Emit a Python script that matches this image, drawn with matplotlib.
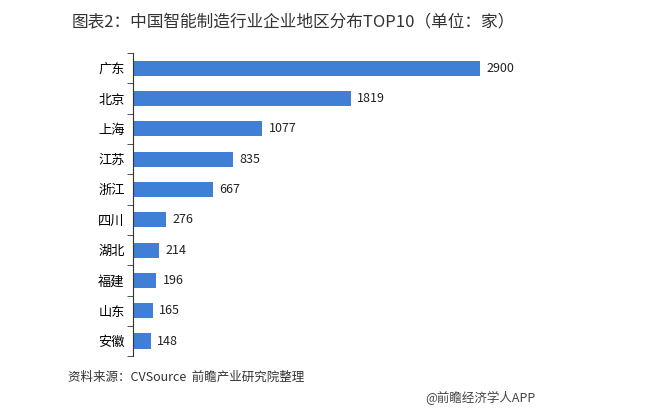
import matplotlib.pyplot as plt
import numpy as np

plt.rcParams['font.family'] = ['Noto Sans CJK SC', 'DejaVu Sans']

regions = ['广东', '北京', '上海', '江苏', '浙江', '四川', '湖北', '福建', '山东', '安徽']
counts = [2900, 1819, 1077, 835, 667, 276, 214, 196, 165, 148]

fig = plt.figure(figsize=(6.65, 4.08), dpi=100)
ax = fig.add_axes([0.2, 0.127, 0.648, 0.743])

Y = np.arange(len(regions))
ax.barh(Y, counts, height=0.5, color='#3f7fd6')
for y, v in zip(Y, counts):
    ax.text(v + 55, y, str(v), va='center', ha='left', fontsize=9, color='#222222')

ax.set_ylim(len(regions) - 0.5, -0.5)
ax.set_xlim(0, 3600)
ax.set_yticks(Y)
ax.set_yticklabels(regions, fontsize=9.5)
ax.set_yticks(np.arange(len(regions) + 1) - 0.5, minor=True)
ax.tick_params(axis='y', which='major', length=0, pad=6)
ax.tick_params(axis='y', which='minor', length=4, direction='out', color='#333333')
ax.set_xticks([])
for s in ['top', 'right', 'bottom']:
    ax.spines[s].set_visible(False)
ax.spines['left'].set_color('#333333')

fig.text(0.108, 0.945, '图表2：中国智能制造行业企业地区分布TOP10（单位：家）',
         fontsize=12, color='#333333', va='center')
fig.text(0.102, 0.075, '资料来源：CVSource  前瞻产业研究院整理',
         fontsize=9, style='italic', color='#333333', va='center')
fig.text(0.64, 0.025, '@前瞻经济学人APP', fontsize=9, color='#444444', va='center')

fig.savefig('out.png', dpi=100)
